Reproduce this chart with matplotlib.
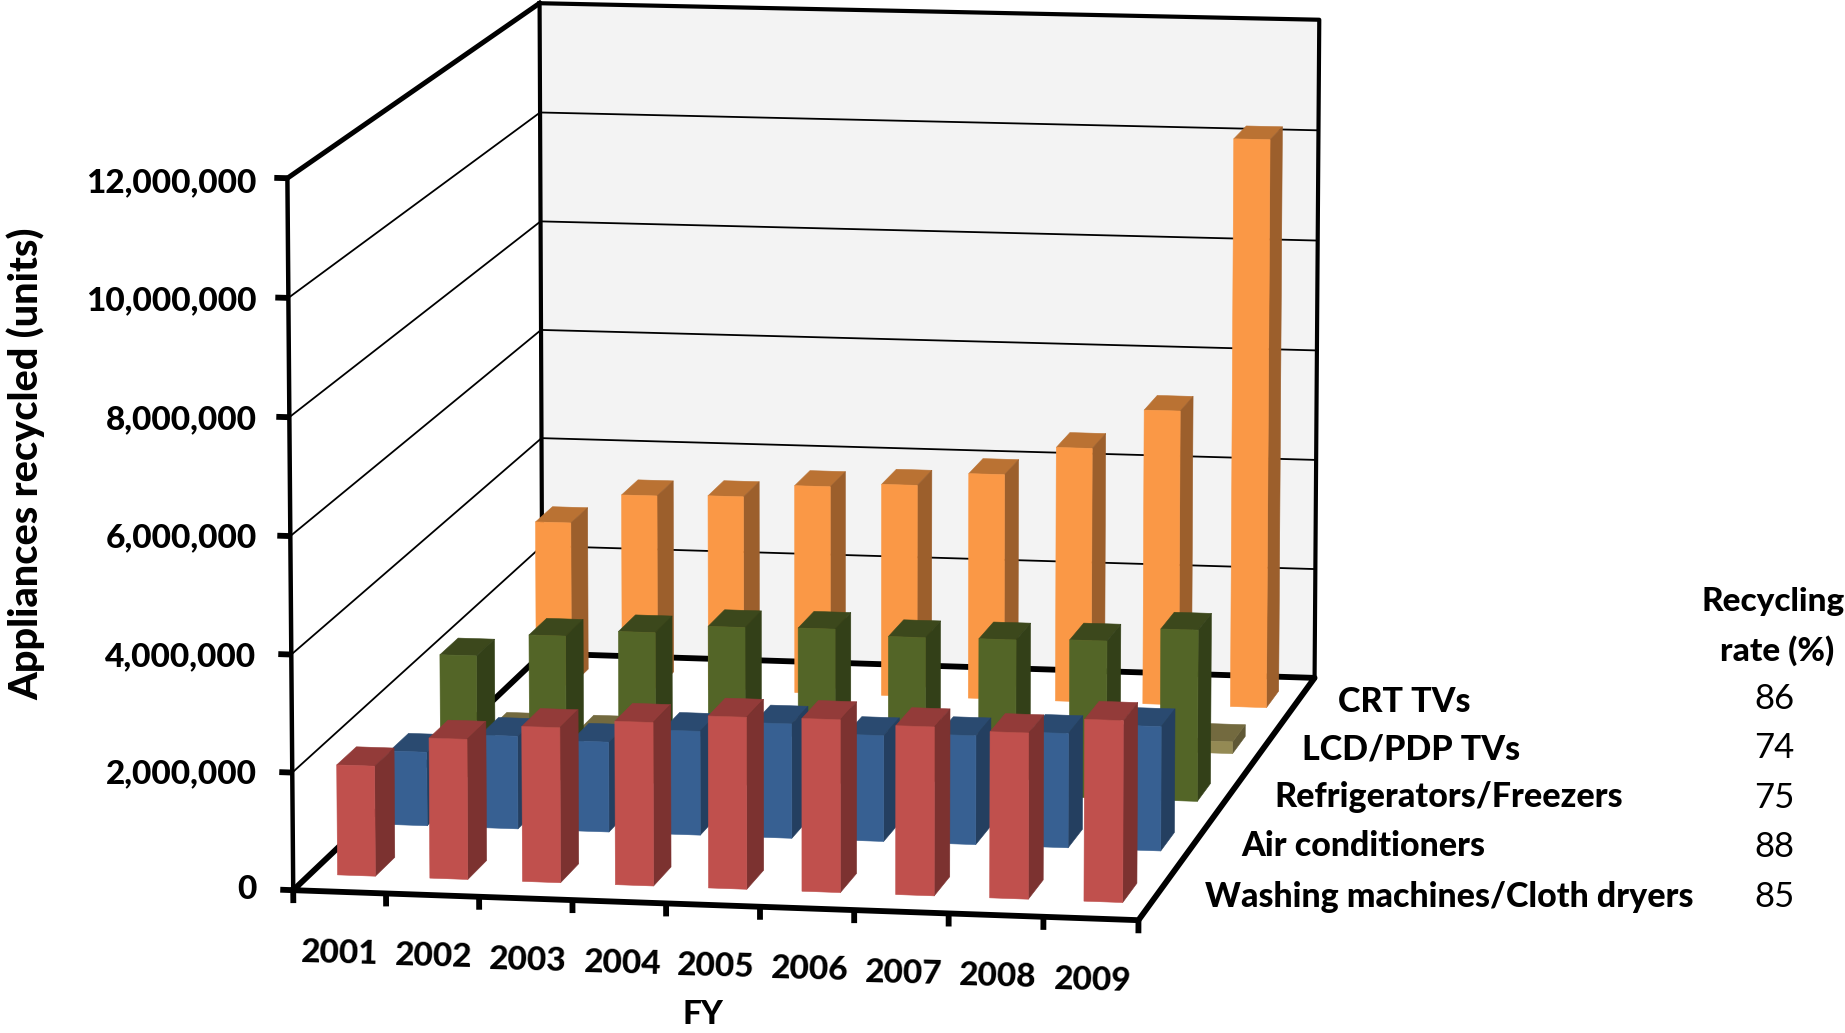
"""
plot.py - Appliances recycled per fiscal year as a 3D column chart.
"""

import numpy as np

import matplotlib
matplotlib.use("Agg")
import matplotlib.pyplot as plt
from mpl_toolkits.mplot3d.art3d import Poly3DCollection

# ---------------------------------------------------------------------------
# Data (millions of units)
# ---------------------------------------------------------------------------
YEARS = [2001, 2002, 2003, 2004, 2005, 2006, 2007, 2008, 2009]
WASHING = [1.88, 2.39, 2.64, 2.78, 2.92, 2.93, 2.86, 2.81, 3.07]
AIRCON = [1.28, 1.61, 1.56, 1.80, 1.98, 1.83, 1.88, 1.97, 2.14]
FRIDGE = [2.15, 2.55, 2.66, 2.80, 2.82, 2.72, 2.73, 2.76, 3.00]
LCD = [0, 0, 0, 0, 0, 0, 0, 0, 0.21]
CRT = [2.98, 3.52, 3.55, 3.78, 3.85, 4.09, 4.61, 5.33, 10.25]

SERIES_LABELS = ["CRT TVs", "LCD/PDP TVs", "Refrigerators/Freezers",
                 "Air conditioners", "Washing machines/Cloth dryers"]
RATES = [86, 74, 75, 88, 85]
Z_TICKS = [0, 2, 4, 6, 8, 10, 12]

# ---------------------------------------------------------------------------
# Style
# ---------------------------------------------------------------------------
W, H = 1845, 1033
plt.rcParams["font.family"] = ["Lato", "DejaVu Sans"]

# front, top, side
COLORS = {
    "washing": ("#C0504D", "#933B39", "#7C3230"),
    "aircon": ("#376092", "#2A4A70", "#243F60"),
    "fridge": ("#536527", "#3C481C", "#334018"),
    "lcd": ("#948A54", "#736A3F", "#5F5835"),
    "crt": ("#FA9846", "#BA7233", "#9C5F2C"),
}

N_X = len(YEARS)
N_Y = 5
Z_MAX = Z_TICKS[-1]
BAR_W = 0.41
BAR_D = 0.37
SCALE = 1845 / 1568


def projection():
    """Perspective matrix from (year, series, value) to image pixels."""
    corners = [
        ((0, 0, 0), (249, 755)),
        ((0, 0, Z_MAX), (244, 152)),
        ((0, N_Y, 0), (461, 557)),
        ((0, N_Y, Z_MAX), (459, 2)),
        ((N_X, N_Y, 0), (1117, 575)),
        ((N_X, N_Y, Z_MAX), (1121, 17)),
        ((N_X, 0, 0), (968, 783)),
    ]
    rows, rhs = [], []
    for (x, y, z), (u, v) in corners:
        u, v = u * SCALE, v * SCALE
        rows.append([x, y, z, 1, 0, 0, 0, 0, -u * x, -u * y, -u * z])
        rows.append([0, 0, 0, 0, x, y, z, 1, -v * x, -v * y, -v * z])
        rhs += [u, v]
    p = np.linalg.lstsq(np.array(rows, float), np.array(rhs, float), rcond=None)[0]
    return np.array([
        [p[0], p[1], p[2], p[3]],
        [p[4], p[5], p[6], p[7]],
        [0.001, 1.0, 0.001, 0.0],  # depth, only used to sort the faces
        [p[8], p[9], p[10], 1.0],
    ])


def px_text(fig, x, y, s, **kw):
    """Text placed by position in the 1568 wide layout."""
    fig.text(x * SCALE / W, 1 - y * SCALE / H, s, color="black", **kw)


def draw_bars(ax, values, depth, colors, zorder):
    front, top, side = colors
    none = (0, 0, 0, 0)
    # bottom, top, front, back, left, right
    faces = [none, top, front, none, none, side]
    for i, val in enumerate(values):
        ax.bar3d(i + (1 - BAR_W) / 2, depth + (1 - BAR_D) / 2, 0,
                 BAR_W, BAR_D, val, color=faces, edgecolor=faces,
                 linewidth=0.4, shade=False, zorder=zorder + i * 0.01)


fig = plt.figure(figsize=(W / 100, H / 100), dpi=100, facecolor="white")
ax = fig.add_axes([0, 0, 1, 1], projection="3d", computed_zorder=False)
ax.apply_aspect = lambda position=None: None
ax.set_axis_off()
ax.set_proj_type("ortho")  # keeps Line3D from clipping to the unit view
M = projection()
ax.get_proj = lambda: M
ax.viewLim.intervalx = (0, W)
ax.viewLim.intervaly = (H, 0)

# Back wall
wall = [[(0, N_Y, 0), (N_X, N_Y, 0), (N_X, N_Y, Z_MAX), (0, N_Y, Z_MAX)]]
ax.add_collection3d(Poly3DCollection(wall, facecolor="#F3F3F3",
                                     edgecolor="none", zorder=1))

# Gridlines on back and left wall
for z in Z_TICKS[1:-1]:
    ax.plot([N_X, 0, 0], [N_Y, N_Y, 0], [z, z, z], color="black", lw=1.3,
            zorder=2)

# Frame
frame = dict(color="black", solid_capstyle="projecting", zorder=3)
ax.plot([0, N_X, N_X], [N_Y, N_Y, N_Y], [Z_MAX, Z_MAX, 0], lw=3.0, **frame)
ax.plot([0, 0], [N_Y, N_Y], [0, Z_MAX], lw=3.0, **frame)
ax.plot([0, 0], [0, N_Y], [Z_MAX, Z_MAX], lw=3.6, **frame)
ax.plot([0, 0], [0, 0], [0, Z_MAX], lw=3.2, **frame)
ax.plot([0, N_X, N_X, 0, 0], [0, 0, N_Y, N_Y, 0], [0, 0, 0, 0, 0], lw=4.2, **frame)

# Tick marks
for z in Z_TICKS:
    ax.plot([-0.14, 0], [0, 0], [z, z], color="black", lw=4.2, zorder=3,
            solid_capstyle="butt")
for i in range(N_X + 1):
    ax.plot([i, i], [0, 0], [0, -0.22], color="black", lw=4.2, zorder=3,
            solid_capstyle="butt")

# Columns, back row first
draw_bars(ax, CRT, 4, COLORS["crt"], 10)
draw_bars(ax, LCD, 3, COLORS["lcd"], 11)
draw_bars(ax, FRIDGE, 2, COLORS["fridge"], 12)
draw_bars(ax, AIRCON, 1, COLORS["aircon"], 13)
draw_bars(ax, WASHING, 0, COLORS["washing"], 14)

# Value axis labels
z_label_y = [756, 658, 558, 457, 357, 256, 155]
for z, y in zip(Z_TICKS, z_label_y):
    px_text(fig, 218, y, f"{z * 1000000:,}", ha="right", va="center",
            fontsize=24, fontweight="black")
px_text(fig, 22, 394, "Appliances recycled (units)", rotation=90, ha="center",
        va="center", fontsize=28.5, fontweight="black")

# Year labels
year_x = [289, 369, 449, 529, 608, 688, 768, 848, 929]
year_y = [810, 813, 816, 819, 821, 824, 827, 830, 833]
for year, x, y in zip(YEARS, year_x, year_y):
    px_text(fig, x, y, str(year), ha="center", va="center", fontsize=24,
            fontweight="black", rotation=-1.5, rotation_mode="anchor")
px_text(fig, 597, 862, "FY", ha="center", va="center", fontsize=24,
        fontweight="black")

# Series names and recycling rates
name_x = [1193, 1199, 1231, 1159, 1232]
name_y = [597, 637, 677, 719, 762]
rate_y = [594, 636, 678, 720, 762]
for name, rate, x, y, ry in zip(SERIES_LABELS, RATES, name_x, name_y, rate_y):
    px_text(fig, x, y, name, ha="center", va="center", fontsize=24.5,
            fontweight="black")
    px_text(fig, 1508, ry, str(rate), ha="center", va="center", fontsize=25)
px_text(fig, 1507, 511, "Recycling", ha="center", va="center", fontsize=24,
        fontweight="black")
px_text(fig, 1510, 553, "rate (%)", ha="center", va="center", fontsize=24,
        fontweight="black")

fig.savefig("out.png", dpi=100)
